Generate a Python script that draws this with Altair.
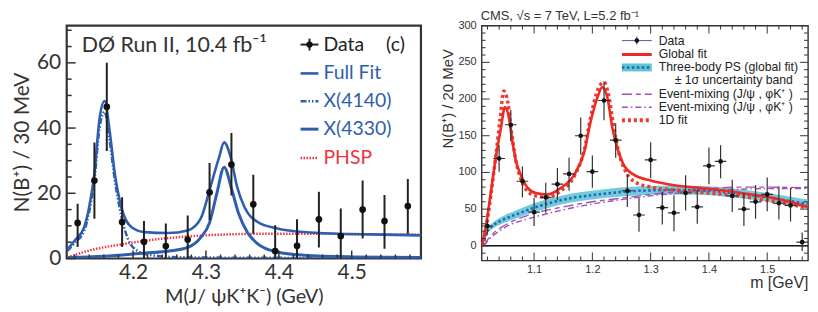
import altair as alt
import pandas as pd

# ================= Left panel (D0) =================
d0_x = [4.124, 4.147, 4.164, 4.185, 4.215, 4.245, 4.275, 4.305, 4.335, 4.365, 4.395,
        4.425, 4.455, 4.485, 4.515, 4.545, 4.577]
d0_y = [10.9, 23.9, 46.5, 11.2, 5.1, 3.8, 5.8, 20.3, 28.8, 16.6, 2.3, 3.9, 12.0, 6.9, 15.0, 11.5, 16.1]
d0_hi = [16.8, 35.6, 60.0, 18.8, 11.5, 10.7, 13.2, 29.3, 38.5, 25.7, 10.2, 12.0, 20.5, 15.3, 23.9, 19.5, 24.4]
d0_lo = [3.5, 12.2, 33.0, 3.5, -1.4, -3.1, -1.6, 11.7, 19.3, 7.6, -5.6, -4.2, 3.4, -1.5, 6.1, 3.0, 7.6]

full_x = [4.110, 4.120, 4.133, 4.140, 4.147, 4.154, 4.161, 4.168, 4.175, 4.184, 4.198, 4.216,
          4.248, 4.275, 4.293, 4.306, 4.318, 4.325, 4.334, 4.343, 4.353, 4.371, 4.398, 4.435,
          4.480, 4.526, 4.595]
full_y = [2.8, 5.5, 9.6, 16.0, 26.0, 42.8, 48.3, 39.0, 26.0, 15.7, 9.6, 8.1,
          7.8, 8.6, 12.3, 21.8, 31.0, 35.6, 31.0, 21.8, 15.7, 11.2, 9.2, 8.1,
          7.6, 7.4, 7.1]

x4140_x = [4.110, 4.120, 4.133, 4.140, 4.147, 4.154, 4.161, 4.168, 4.175, 4.184, 4.193, 4.205,
           4.220, 4.250, 4.300, 4.400, 4.595]
x4140_y = [2.3, 4.8, 8.5, 14.5, 24.0, 40.0, 45.0, 36.0, 24.0, 13.0, 6.0, 2.5,
           1.2, 0.5, 0.3, 0.2, 0.1]

x4330_x = [4.110, 4.160, 4.216, 4.250, 4.276, 4.293, 4.305, 4.315, 4.325, 4.335, 4.345, 4.357,
           4.371, 4.398, 4.435, 4.500, 4.595]
x4330_y = [0.3, 0.7, 1.7, 2.3, 3.5, 6.5, 11.0, 20.0, 28.0, 21.5, 13.7, 8.0,
           4.5, 2.0, 1.0, 0.5, 0.3]

phsp_x = [4.110, 4.130, 4.150, 4.175, 4.200, 4.225, 4.250, 4.300, 4.350, 4.400, 4.450, 4.500, 4.550, 4.595]
phsp_y = [0.3, 1.8, 3.0, 4.0, 4.9, 5.7, 6.3, 7.1, 7.5, 7.6, 7.6, 7.5, 7.4, 7.3]

left_x_labels = [4.2, 4.3, 4.4, 4.5]
left_y_labels = [0, 20, 40, 60]
left_x_minor = [4.12, 4.14, 4.16, 4.18, 4.22, 4.24, 4.26, 4.28, 4.32, 4.34, 4.36, 4.38,
                4.42, 4.44, 4.46, 4.48, 4.52, 4.54, 4.56, 4.58]
left_y_minor = [5, 10, 15, 25, 30, 35, 45, 50, 55, 65, 70]

# ================= Right panel (CMS) =================
cms_x = [1.02, 1.04, 1.06, 1.08, 1.10, 1.12, 1.14, 1.16, 1.18, 1.20, 1.22, 1.24, 1.26, 1.28,
         1.30, 1.32, 1.34, 1.36, 1.38, 1.40, 1.42, 1.44, 1.46, 1.48, 1.50, 1.52, 1.54, 1.56]
cms_y = [27, 119, 165, 88, 46, 66, 84, 98, 150, 101, 198, 144, 75, 42,
         117, 52, 45, 72, 53, 109, 115, 68, 50, 60, 70, 58, 55, 5]
cms_hi = [36, 137, 185, 108, 65, 86, 106, 120, 175, 123, 224, 167, 98, 65,
          141, 74, 69, 96, 77, 134, 137, 90, 72, 83, 93, 81, 79, 18]
cms_lo = [15, 101, 142, 66, 27, 45, 62, 75, 124, 79, 171, 120, 53, 19,
          92, 29, 20, 48, 30, 84, 92, 46, 27, 37, 47, 36, 33, -7]
bin_half = 0.01

glob_x = [1.011, 1.017, 1.026, 1.034, 1.043, 1.050, 1.057, 1.063, 1.069, 1.077, 1.089, 1.103,
          1.123, 1.146, 1.169, 1.186, 1.197, 1.209, 1.217, 1.226, 1.234, 1.243, 1.254, 1.271,
          1.300, 1.340, 1.397, 1.455, 1.512, 1.570]
glob_y = [0, 25, 74, 119, 160, 189, 174, 142, 115, 97, 79, 72,
          70, 79, 97, 128, 169, 203, 216, 201, 162, 133, 110, 97,
          89, 82.5, 78, 72, 65, 53]

fit1d_x = [1.011, 1.017, 1.026, 1.034, 1.042, 1.048, 1.055, 1.062, 1.069, 1.077, 1.089, 1.103,
           1.123, 1.146, 1.169, 1.186, 1.197, 1.209, 1.220, 1.228, 1.236, 1.245, 1.256, 1.271,
           1.300, 1.340, 1.400, 1.455, 1.512, 1.570]
fit1d_y = [0, 22, 70, 120, 175, 211, 195, 150, 115, 92, 74, 68,
           66, 75, 95, 130, 175, 212, 223, 205, 165, 128, 103, 88,
           80, 76, 72, 67.6, 60, 52]

ps_x = [1.0125, 1.02, 1.03, 1.048, 1.07, 1.10, 1.13, 1.163, 1.20, 1.22, 1.26, 1.30,
        1.35, 1.40, 1.45, 1.50, 1.54, 1.57]
ps_y = [0, 20, 28, 36, 43, 52, 59, 65, 69, 71, 74, 75.5, 76, 75, 71, 66, 61, 57]
ps_err = [0, 3, 4, 5, 5.5, 6, 6, 6, 6, 6, 6, 6, 6, 6, 6, 6, 6, 6]

mix1_x = [1.014, 1.02, 1.03, 1.05, 1.10, 1.15, 1.20, 1.25, 1.30, 1.35, 1.40, 1.45, 1.50, 1.57]
mix1_y = [0, 8, 17, 28, 44, 53, 60, 65, 70, 74, 78, 80, 80, 79]
mix2_x = [1.014, 1.02, 1.03, 1.05, 1.10, 1.15, 1.20, 1.25, 1.30, 1.35, 1.40, 1.45, 1.50, 1.57]
mix2_y = [0, 6, 14, 25, 39, 49, 57, 63, 68, 72, 75, 77, 78, 78]

right_x_labels = [1.1, 1.2, 1.3, 1.4, 1.5]
right_y_labels = [0, 50, 100, 150, 200, 250, 300]
right_x_minor = [1.02, 1.04, 1.06, 1.08, 1.12, 1.14, 1.16, 1.18, 1.22, 1.24, 1.26, 1.28,
                 1.32, 1.34, 1.36, 1.38, 1.42, 1.44, 1.46, 1.48, 1.52, 1.54, 1.56]
right_y_minor = [-10, 10, 20, 30, 40, 60, 70, 80, 90, 110, 120, 130, 140, 160, 170, 180, 190,
                 210, 220, 230, 240, 260, 270, 280, 290]

# ================= styling =================
BLUE = "#2f5eae"
RED = "#ee3340"
FONT_L = "Lato"
FONT_R = "Liberation Sans"
LW, LH = 356, 234
RW, RH = 328, 236

one = pd.DataFrame({"k": [0]})


def curve(xs, ys):
    return pd.DataFrame({"x": xs, "y": ys})


# ---------- left ----------
xsl = alt.Scale(domain=[4.109, 4.595], nice=False, zero=False)
ysl = alt.Scale(domain=[0, 71.4], nice=False, zero=False)
NX = dict(scale=xsl)
NY = dict(scale=ysl)

d0 = pd.DataFrame({"x": d0_x, "y": d0_y, "lo": d0_lo, "hi": d0_hi})

base_axes = alt.Chart(d0).mark_point(opacity=0).encode(
    x=alt.X("x:Q", scale=xsl, axis=alt.Axis(values=left_x_labels, format=".1f", title="M(J/ ψK⁺K⁻) (GeV)",
                                          labelFontSize=21, titleFontSize=20, labelPadding=3, titlePadding=4,
                                          labelColor="#333", titleColor="#333", labelFont=FONT_L, titleFont=FONT_L,
                                          titleFontWeight="normal", labelFlush=False, labelOverlap=False)),
    y=alt.Y("y:Q", scale=ysl, axis=alt.Axis(values=left_y_labels, title="N(B⁺) / 30 MeV",
                                          labelFontSize=21, titleFontSize=21, labelPadding=6, titlePadding=4,
                                          labelColor="#333", titleColor="#333", labelFont=FONT_L, titleFont=FONT_L,
                                          titleFontWeight="normal", labelFlush=False, labelOverlap=False)),
)

phsp = alt.Chart(curve(phsp_x, phsp_y)).mark_line(color=RED, strokeWidth=2.5, strokeDash=[1.5, 1.5], clip=True,
                                                  interpolate="monotone").encode(x=alt.X("x:Q", **NX), y=alt.Y("y:Q", **NY))
l4140 = alt.Chart(curve(x4140_x, x4140_y)).mark_line(color=BLUE, strokeWidth=2.5, strokeDash=[6, 2, 1.5, 2, 1.5, 2],
                                                     clip=True, interpolate="monotone").encode(x=alt.X("x:Q", **NX), y=alt.Y("y:Q", **NY))
l4330 = alt.Chart(curve(x4330_x, x4330_y)).mark_line(color=BLUE, strokeWidth=3, clip=True,
                                                     interpolate="monotone").encode(x=alt.X("x:Q", **NX), y=alt.Y("y:Q", **NY))
lfull = alt.Chart(curve(full_x, full_y)).mark_line(color=BLUE, strokeWidth=2.6, clip=True,
                                                   interpolate="monotone").encode(x=alt.X("x:Q", **NX), y=alt.Y("y:Q", **NY))
lerr = alt.Chart(d0).mark_rule(color="#222", strokeWidth=2, clip=True).encode(
    x=alt.X("x:Q", **NX), y=alt.Y("lo:Q", **NY), y2="hi:Q")
lpts = alt.Chart(d0).mark_circle(color="#111", size=45, opacity=1).encode(x=alt.X("x:Q", **NX), y=alt.Y("y:Q", **NY))

lt_y_major = alt.Chart(pd.DataFrame({"t": left_y_labels})).mark_rule(color="#333", strokeWidth=1.5).encode(
    y=alt.Y("t:Q", **NY), x=alt.value(0), x2=alt.value(9))
lt_y_minor = alt.Chart(pd.DataFrame({"t": left_y_minor})).mark_rule(color="#333", strokeWidth=1.5).encode(
    y=alt.Y("t:Q", **NY), x=alt.value(0), x2=alt.value(5))
lt_x_major = alt.Chart(pd.DataFrame({"t": left_x_labels})).mark_rule(color="#333", strokeWidth=1.5).encode(
    x=alt.X("t:Q", **NX), y=alt.value(LH), y2=alt.value(LH - 8))
lt_x_minor = alt.Chart(pd.DataFrame({"t": left_x_minor})).mark_rule(color="#333", strokeWidth=1.5).encode(
    x=alt.X("t:Q", **NX), y=alt.value(LH), y2=alt.value(LH - 4))


def ltext(txt, x, y, color="#222", size=19.5):
    return alt.Chart(one).mark_text(text=txt, align="left", baseline="middle", font=FONT_L, fontSize=size,
                                    color=color).encode(x=alt.value(x), y=alt.value(y))


def lline(x1, x2, y, color, width, dash=None):
    kw = dict(color=color, strokeWidth=width)
    if dash:
        kw["strokeDash"] = dash
    return alt.Chart(one).mark_rule(**kw).encode(x=alt.value(x1), x2=alt.value(x2), y=alt.value(y))


left_legend = [
    ltext("DØ Run II, 10.4 fb⁻¹", 15, 20, "#333", 21.5),
    lline(235, 253, 19, "#222", 2),
    alt.Chart(one).mark_rule(color="#222", strokeWidth=2).encode(x=alt.value(244), y=alt.value(13), y2=alt.value(25)),
    alt.Chart(one).mark_circle(color="#111", size=40, opacity=1).encode(x=alt.value(244), y=alt.value(19)),
    ltext("Data", 258, 19),
    ltext("(c)", 321, 19),
    lline(235, 253, 48, BLUE, 2.6),
    ltext("Full Fit", 258, 48, BLUE),
    lline(235, 253, 76, BLUE, 2.5, [6, 2, 1.5, 2, 1.5, 2]),
    ltext("X(4140)", 258, 76, BLUE),
    lline(235, 253, 104, BLUE, 3),
    ltext("X(4330)", 258, 104, BLUE),
    lline(235, 253, 133, RED, 2.5, [1.5, 1.5]),
    ltext("PHSP", 258, 133, RED),
]

left = alt.layer(base_axes, phsp, l4140, l4330, lfull, lerr, lpts,
                 lt_y_major, lt_y_minor, lt_x_major, lt_x_minor, *left_legend).properties(
    width=LW, height=LH, view=alt.ViewBackground(stroke="#333", strokeWidth=2.2))

# ---------- right ----------
xsr = alt.Scale(domain=[1.01, 1.57], nice=False, zero=False)
ysr = alt.Scale(domain=[-20, 300], nice=False, zero=False)
RX = dict(scale=xsr)
RY = dict(scale=ysr)

cms = pd.DataFrame({"x": cms_x, "y": cms_y, "lo": cms_lo, "hi": cms_hi})

rbase = alt.Chart(cms).mark_point(opacity=0).encode(
    x=alt.X("x:Q", scale=xsr, axis=alt.Axis(values=right_x_labels, format=".1f", title="m [GeV]",
                                          labelFontSize=11, titleFontSize=16, labelPadding=3, titleY=14,
                                          titleAnchor="end", labelColor="#333", titleColor="#333",
                                          labelFont=FONT_R, titleFont=FONT_R, titleFontWeight="normal",
                                          labelOverlap=False)),
    y=alt.Y("y:Q", scale=ysr, axis=alt.Axis(labels=False, title="N(B⁺) / 20 MeV",
                                          titleFontSize=15, titlePadding=26, titleY=73,
                                          titleColor="#333",
                                          titleFont=FONT_R, titleFontWeight="normal")),
)

# y tick labels drawn as text through the y scale
r_ylab = alt.Chart(pd.DataFrame({"t": right_y_labels})).mark_text(
    align="right", baseline="middle", font=FONT_R, fontSize=11, color="#333").encode(
    y=alt.Y("t:Q", **RY), x=alt.value(-5), text=alt.Text("t:Q", format="d"))

zero_line = alt.Chart(one).mark_rule(color="#111", strokeWidth=1.6).encode(y=alt.Y("d:Q", **RY)).transform_calculate(d="0")

ps_df = pd.DataFrame({"x": ps_x, "y": ps_y, "e": ps_err})
band = alt.Chart(ps_df).transform_calculate(lo="datum.y - datum.e", hi="datum.y + datum.e").mark_area(
    color="#5fc6d4", opacity=0.9, clip=True, interpolate="monotone").encode(
    x=alt.X("x:Q", **RX), y=alt.Y("lo:Q", **RY), y2="hi:Q")
ps_line = alt.Chart(ps_df).mark_line(color="#2a5fbf", strokeWidth=2.5, strokeDash=[2.5, 2.5], clip=True,
                                     interpolate="monotone").encode(x=alt.X("x:Q", **RX), y=alt.Y("y:Q", **RY))
mix1 = alt.Chart(curve(mix1_x, mix1_y)).mark_line(color="#a150b8", strokeWidth=1.4, strokeDash=[10, 4, 5, 4],
                                                  clip=True, interpolate="monotone").encode(x=alt.X("x:Q", **RX), y=alt.Y("y:Q", **RY))
mix2 = alt.Chart(curve(mix2_x, mix2_y)).mark_line(color="#a150b8", strokeWidth=1.4, strokeDash=[6, 3, 1.5, 3],
                                                  clip=True, interpolate="monotone").encode(x=alt.X("x:Q", **RX), y=alt.Y("y:Q", **RY))
fit1d = alt.Chart(curve(fit1d_x, fit1d_y)).mark_line(color="#f03a30", strokeWidth=3.5, strokeDash=[3, 3],
                                                     clip=True, interpolate="monotone").encode(x=alt.X("x:Q", **RX), y=alt.Y("y:Q", **RY))
glob = alt.Chart(curve(glob_x, glob_y)).mark_line(color="#ee2a24", strokeWidth=2.6, clip=True,
                                                  interpolate="monotone").encode(x=alt.X("x:Q", **RX), y=alt.Y("y:Q", **RY))
rverr = alt.Chart(cms).mark_rule(color="#333", strokeWidth=1.2, clip=True).encode(
    x=alt.X("x:Q", **RX), y=alt.Y("lo:Q", **RY), y2="hi:Q")
rherr = alt.Chart(cms).transform_calculate(
    xl=f"datum.x - {bin_half}", xh=f"datum.x + {bin_half}").mark_rule(color="#333", strokeWidth=1.2, clip=True).encode(
    x=alt.X("xl:Q", **RX), x2="xh:Q", y=alt.Y("y:Q", **RY))
rpts = alt.Chart(cms).mark_circle(color="#111", size=22, opacity=1, clip=True).encode(
    x=alt.X("x:Q", **RX), y=alt.Y("y:Q", **RY))


def rticks_y(vals, length):
    df = pd.DataFrame({"t": vals})
    a = alt.Chart(df).mark_rule(color="#333", strokeWidth=1).encode(y=alt.Y("t:Q", **RY), x=alt.value(0), x2=alt.value(length))
    b = alt.Chart(df).mark_rule(color="#333", strokeWidth=1).encode(y=alt.Y("t:Q", **RY), x=alt.value(RW - length), x2=alt.value(RW))
    return [a, b]


def rticks_x(vals, length):
    df = pd.DataFrame({"t": vals})
    a = alt.Chart(df).mark_rule(color="#333", strokeWidth=1).encode(x=alt.X("t:Q", **RX), y=alt.value(RH), y2=alt.value(RH - length))
    b = alt.Chart(df).mark_rule(color="#333", strokeWidth=1).encode(x=alt.X("t:Q", **RX), y=alt.value(0), y2=alt.value(length))
    return [a, b]


rticks = rticks_y(right_y_labels, 8) + rticks_y(right_y_minor, 4) + rticks_x(right_x_labels, 8) + rticks_x(right_x_minor, 4)


def rtext(txt, x, y, size=12.3, color="#222"):
    return alt.Chart(one).mark_text(text=txt, align="left", baseline="middle", font=FONT_R, fontSize=size,
                                    color=color).encode(x=alt.value(x), y=alt.value(y))


def rline(x1, x2, y, color, width, dash=None):
    kw = dict(color=color, strokeWidth=width)
    if dash:
        kw["strokeDash"] = dash
    return alt.Chart(one).mark_rule(**kw).encode(x=alt.value(x1), x2=alt.value(x2), y=alt.value(y))


right_legend = [
    rtext("CMS,   √s = 7 TeV, L=5.2 fb⁻¹", -1, -10, 13, "#333"),
    rline(141, 171, 15, "#5a5aa8", 1),
    alt.Chart(one).mark_rule(color="#333", strokeWidth=1).encode(x=alt.value(156), y=alt.value(11), y2=alt.value(19)),
    alt.Chart(one).mark_circle(color="#111", size=22, opacity=1).encode(x=alt.value(156), y=alt.value(15)),
    rtext("Data", 178, 15),
    rline(141, 171, 29, "#ee2a24", 3),
    rtext("Global fit", 178, 29),
    alt.Chart(one).mark_rect(color="#5fc6d4").encode(x=alt.value(141), x2=alt.value(171), y=alt.value(38), y2=alt.value(46)),
    rline(141, 171, 42, "#2a5fbf", 2.5, [2.5, 2.5]),
    rtext("Three-body PS (global fit)", 178, 42),
    rtext("± 1σ  uncertainty band", 194, 55),
    rline(141, 171, 69, "#a150b8", 1.4, [10, 4, 5, 4]),
    rtext("Event-mixing (J/ψ , φK⁺ )", 178, 69),
    rline(141, 171, 82, "#a150b8", 1.4, [6, 3, 1.5, 3]),
    rtext("Event-mixing (J/ψ , φK⁺ )", 178, 82),
    rline(141, 171, 95, "#f03a30", 4, [3, 3]),
    rtext("1D fit", 178, 95),
]

right = alt.layer(rbase, r_ylab, zero_line, band, mix1, mix2, ps_line, fit1d, glob, rverr, rherr, rpts,
                  *rticks, *right_legend).properties(
    width=RW, height=RH, view=alt.ViewBackground(stroke="#333", strokeWidth=1.4))

chart = alt.hconcat(left, right, spacing=61, bounds="flush").properties(
    padding={"left": 2, "top": 0, "right": 0, "bottom": 0}, background="white"
).configure_axis(domain=False, ticks=False, grid=False)

chart.save("out.html", embed_options={"renderer": "svg", "actions": False})
